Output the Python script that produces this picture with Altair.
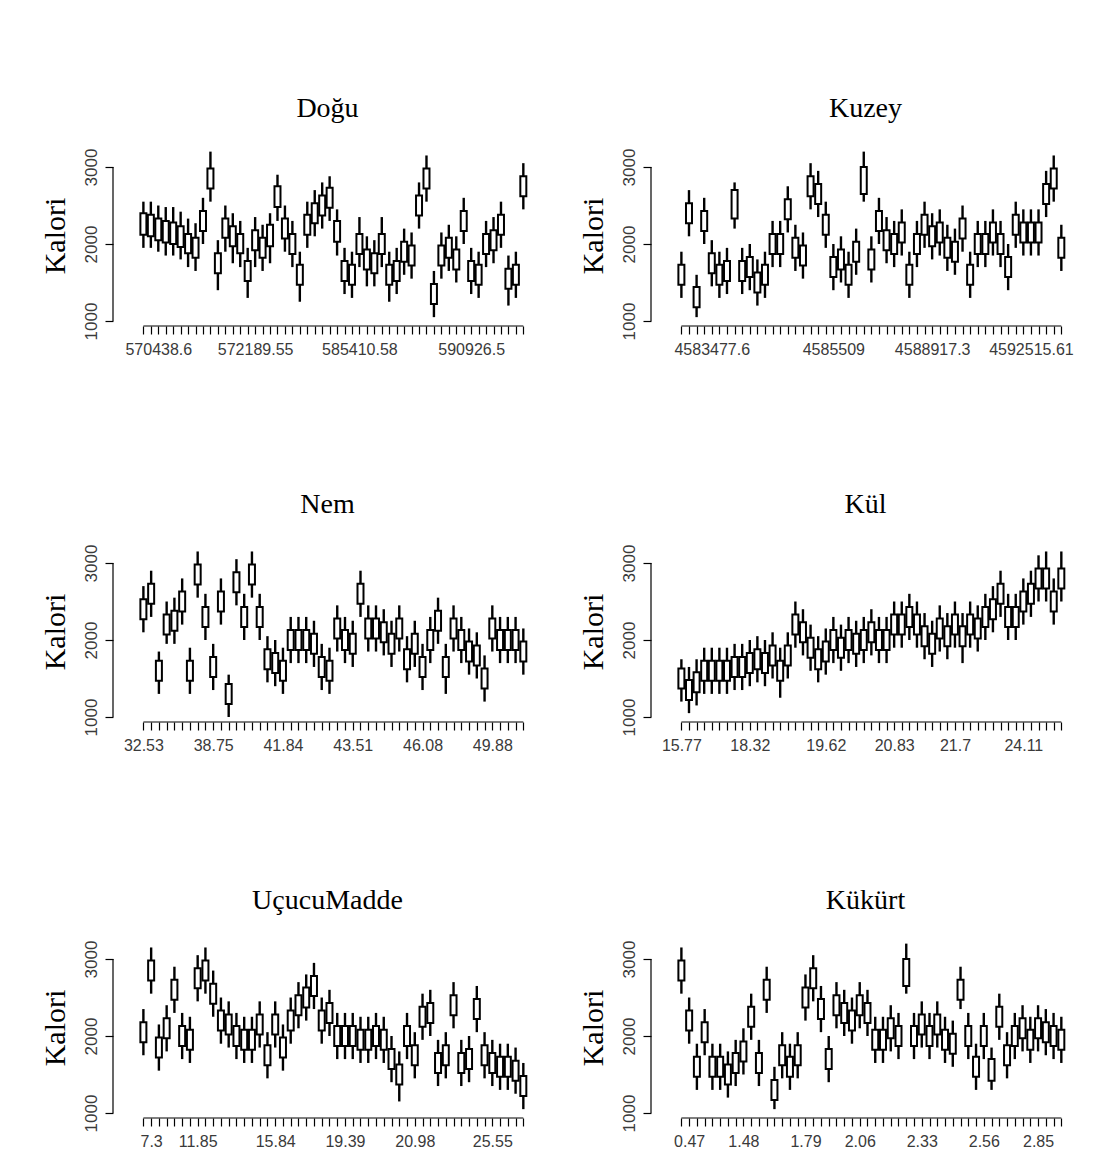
import altair as alt
import pandas as pd

# ---------------- data: (whisker low, box low, box high, whisker high) per group ----------------
dogu = [(1950,2120,2400,2550),(1950,2100,2380,2550),(1900,2050,2330,2500),(1850,2020,2300,2480),
        (1850,2000,2280,2480),(1800,1960,2230,2420),(1700,1880,2130,2330),(1650,1820,2080,2270),
        (2000,2170,2430,2600),(2550,2720,2980,3200),(1400,1620,1880,2050),(1900,2080,2330,2500),
        (1750,1970,2230,2400),(1700,1880,2130,2300),(1300,1520,1780,1950),(1700,1920,2180,2350),
        (1650,1820,2080,2250),(1750,1970,2250,2400),(2300,2480,2750,2900),(1900,2070,2330,2500),
        (1700,1870,2130,2300),(1250,1470,1730,1900),(1950,2120,2380,2550),(2100,2270,2530,2700),
        (2200,2370,2630,2800),(2300,2470,2730,2880),(1850,2030,2300,2450),(1350,1520,1780,1950),
        (1300,1470,1730,1900),(1700,1870,2130,2350),(1450,1670,1930,2100),(1450,1620,1880,2050),
        (1700,1870,2130,2350),(1250,1470,1730,1900),(1350,1520,1780,1950),(1600,1770,2030,2200),
        (1550,1720,1980,2150),(2200,2370,2630,2800),(2550,2720,2980,3150),(1050,1220,1480,1650),
        (1550,1720,1980,2150),(1650,1820,2080,2250),(1500,1670,1930,2100),(2000,2170,2430,2600),
        (1350,1520,1780,1950),(1300,1470,1730,1900),(1700,1870,2130,2300),(1750,1920,2180,2350),
        (1950,2120,2380,2550),(1200,1420,1680,1850),(1300,1470,1730,1900),(2450,2620,2880,3050)]

kuzey = [(1300,1470,1730,1900),(2100,2270,2530,2700),(1050,1180,1440,1600),(2000,2170,2430,2600),
         (1450,1620,1880,2050),(1300,1470,1730,1900),(1350,1520,1780,1950),(2200,2330,2700,2800),
         (1350,1520,1780,1950),(1400,1570,1830,2000),(1200,1370,1630,1800),(1300,1470,1730,1900),
         (1700,1870,2130,2300),(1700,1870,2130,2300),(2150,2320,2580,2750),(1650,1820,2080,2250),
         (1550,1720,1980,2150),(2450,2620,2880,3050),(2350,2520,2780,2950),(1950,2120,2380,2550),
         (1400,1570,1830,2000),(1500,1670,1930,2100),(1300,1470,1730,1900),(1600,1770,2030,2200),
         (2550,2650,3000,3200),(1500,1670,1930,2100),(2000,2170,2430,2600),(1750,1920,2180,2350),
         (1700,1870,2130,2300),(1850,2020,2280,2450),(1300,1470,1730,1900),(1700,1870,2130,2300),
         (1950,2120,2380,2550),(1800,1970,2230,2400),(1850,2020,2280,2450),(1650,1820,2080,2250),
         (1600,1770,2030,2200),(1900,2070,2330,2500),(1300,1470,1730,1900),(1700,1870,2130,2300),
         (1700,1870,2130,2300),(1850,2020,2280,2450),(1700,1870,2130,2300),(1400,1570,1830,2000),
         (1950,2120,2380,2550),(1850,2020,2280,2450),(1850,2020,2280,2450),(1850,2020,2280,2450),
         (2350,2520,2780,2950),(2550,2720,2980,3150),(1650,1820,2080,2250)]

nem = [(2100,2270,2530,2700),(2300,2470,2730,2900),(1300,1470,1730,1850),(1950,2070,2330,2500),
       (1950,2120,2380,2550),(2200,2370,2630,2800),(1300,1470,1730,1900),(2550,2720,2980,3150),
       (2000,2170,2430,2600),(1350,1520,1780,1950),(2200,2370,2630,2800),(1000,1170,1430,1550),
       (2450,2620,2880,3050),(2000,2170,2430,2600),(2550,2720,2980,3150),(2000,2170,2430,2600),
       (1450,1620,1880,2050),(1400,1570,1830,2000),(1300,1470,1730,1900),(1700,1870,2130,2300),
       (1700,1870,2130,2300),(1700,1870,2130,2300),(1650,1820,2080,2250),(1350,1520,1780,1950),
       (1300,1470,1730,1900),(1850,2020,2280,2450),(1700,1870,2130,2300),(1650,1820,2080,2250),
       (2300,2470,2730,2900),(1850,2020,2280,2450),(1850,2020,2280,2450),(1800,1970,2230,2400),
       (1650,1820,2080,2250),(1850,2020,2280,2450),(1450,1620,1880,2050),(1650,1820,2080,2250),
       (1350,1520,1780,1950),(1700,1870,2130,2300),(1950,2120,2380,2550),(1300,1520,1780,1950),
       (1850,2020,2280,2450),(1700,1870,2130,2300),(1550,1720,1980,2150),(1500,1670,1930,2100),
       (1200,1370,1630,1800),(1850,2020,2280,2450),(1700,1870,2130,2300),(1700,1870,2130,2300),
       (1700,1870,2130,2300),(1550,1720,1980,2150)]

kul = [(1200,1370,1630,1750),(1050,1220,1480,1650),(1150,1320,1580,1750),(1300,1470,1730,1900),
       (1300,1470,1730,1900),(1300,1470,1730,1900),(1300,1470,1730,1900),(1350,1520,1780,1950),
       (1350,1520,1780,1950),(1400,1570,1830,2000),(1450,1620,1880,2050),(1400,1570,1830,2000),
       (1500,1670,1930,2100),(1250,1470,1730,1900),(1500,1670,1930,2100),(1900,2070,2330,2500),
       (1800,1970,2230,2400),(1600,1770,2030,2200),(1450,1620,1880,2050),(1550,1720,1980,2150),
       (1700,1870,2130,2300),(1600,1770,2030,2200),(1700,1870,2130,2300),(1650,1820,2080,2250),
       (1700,1870,2130,2300),(1800,1970,2230,2400),(1700,1870,2130,2300),(1700,1870,2130,2300),
       (1900,2070,2330,2500),(1900,2070,2330,2500),(2000,2170,2430,2600),(1900,2070,2330,2500),
       (1750,1920,2180,2350),(1650,1820,2080,2250),(1850,2020,2280,2450),(1750,1920,2180,2350),
       (1900,2070,2330,2500),(1700,1920,2180,2350),(1900,2070,2330,2500),(1850,2020,2280,2450),
       (2000,2170,2430,2600),(2100,2270,2530,2700),(2300,2470,2730,2900),(2000,2170,2430,2600),
       (2000,2170,2430,2600),(2200,2370,2630,2800),(2300,2470,2730,2900),(2500,2670,2930,3100),
       (2500,2670,2930,3150),(2200,2370,2630,2800),(2500,2670,2930,3150)]

ucucu = [(1750,1920,2180,2350),(2550,2720,2980,3150),(1550,1720,1980,2150),(1800,1970,2230,2400),
         (2300,2470,2730,2900),(1700,1870,2130,2300),(1650,1820,2080,2250),(2450,2620,2880,3050),
         (2550,2720,2980,3150),(2250,2420,2680,2850),(1900,2070,2330,2500),(1850,2020,2280,2450),
         (1700,1870,2130,2300),(1650,1820,2080,2250),(1650,1820,2080,2250),(1850,2020,2280,2450),
         (1450,1620,1880,2050),(1850,2020,2280,2450),(1550,1720,1980,2150),(1900,2070,2330,2500),
         (2100,2270,2530,2700),(2200,2370,2630,2800),(2350,2520,2780,2950),(1900,2070,2330,2500),
         (2000,2170,2430,2600),(1700,1870,2130,2300),(1700,1870,2130,2300),(1700,1870,2130,2300),
         (1650,1820,2080,2250),(1650,1820,2080,2250),(1700,1870,2130,2300),(1650,1820,2080,2250),
         (1400,1570,1830,2000),(1150,1370,1630,1800),(1700,1870,2130,2300),(1450,1620,1880,2050),
         (1950,2120,2380,2550),(2000,2170,2430,2600),(1350,1520,1780,1950),(1450,1620,1880,2050),
         (2100,2270,2530,2700),(1350,1520,1780,1950),(1400,1570,1830,2000),(2050,2220,2480,2650),
         (1450,1620,1880,2050),(1350,1520,1780,1950),(1300,1470,1730,1900),(1300,1470,1730,1900),
         (1250,1420,1680,1850),(1050,1220,1480,1650)]

kukurt = [(2550,2720,2980,3150),(1900,2070,2330,2500),(1300,1470,1730,1900),(1750,1920,2180,2350),
          (1300,1470,1730,1900),(1300,1470,1730,1900),(1200,1370,1630,1800),(1350,1520,1780,1950),
          (1500,1670,1930,2100),(1950,2120,2380,2550),(1350,1520,1780,1950),(2300,2470,2730,2900),
          (1050,1170,1430,1600),(1450,1620,1880,2050),(1300,1470,1730,1900),(1450,1620,1880,2050),
          (2200,2370,2630,2800),(2450,2620,2880,3050),(2050,2220,2480,2650),(1400,1570,1830,2000),
          (2100,2270,2530,2700),(2000,2170,2430,2600),(1900,2070,2330,2500),(2100,2270,2530,2700),
          (2000,2170,2430,2600),(1650,1820,2080,2250),(1650,1820,2080,2250),(1800,1970,2230,2400),
          (1700,1870,2130,2300),(2550,2650,3000,3200),(1700,1870,2130,2300),(1850,2020,2280,2450),
          (1700,1870,2130,2300),(1850,2020,2280,2450),(1650,1820,2080,2250),(1600,1770,2030,2200),
          (2350,2470,2730,2900),(1700,1870,2130,2300),(1300,1470,1730,1900),(1700,1870,2130,2300),
          (1300,1420,1700,1850),(1950,2120,2380,2550),(1450,1620,1880,2050),(1700,1870,2130,2300),
          (1800,1970,2230,2400),(1650,1820,2080,2250),(1800,1970,2230,2400),(1750,1920,2180,2350),
          (1700,1870,2130,2300),(1650,1820,2080,2250)]

# tick labels shown (group index -> text)
dogu_labels = {3: "570438.6", 16: "572189.55", 30: "585410.58", 45: "590926.5"}
kuzey_labels = {5: "4583477.6", 21: "4585509", 34: "4588917.3", 47: "4592515.61"}
nem_labels = {1: "32.53", 10: "38.75", 19: "41.84", 28: "43.51", 37: "46.08", 46: "49.88"}
kul_labels = {1: "15.77", 10: "18.32", 20: "19.62", 29: "20.83", 37: "21.7", 46: "24.11"}
ucucu_labels = {2: "7.3", 8: "11.85", 18: "15.84", 27: "19.39", 36: "20.98", 46: "25.55"}
kukurt_labels = {2: "0.47", 9: "1.48", 17: "1.79", 24: "2.06", 32: "2.33", 40: "2.56", 47: "2.85"}

y_ticks = [1000, 2000, 3000]
y_title = "Kalori"

W, H = 429, 181
EDGE_L, EDGE_R = 26, 14  # px between plot edge and first/last group
SERIF = "Liberation Serif"
SANS = "Liberation Sans"


def panel(title, stats, labels):
    n = len(stats)
    df = pd.DataFrame({
        "i": list(range(1, n + 1)),
        "lo": [s[0] for s in stats],
        "q1": [s[1] for s in stats],
        "q3": [s[2] for s in stats],
        "hi": [s[3] for s in stats],
    })
    unit = (W - EDGE_L - EDGE_R) / (n - 1)
    xs = alt.Scale(domain=[1 - EDGE_L / unit, n + EDGE_R / unit], nice=False, zero=False)
    ys = alt.Scale(domain=[935, 3286], nice=False, zero=False)
    expr = "".join(f"datum.value == {k} ? '{v}' : " for k, v in labels.items()) + "''"
    xaxis = alt.Axis(values=list(range(1, n + 1)), labelExpr=expr, tickSize=8, tickColor="black",
                     tickWidth=1.2, domain=False, grid=False, labelOverlap=False, labelFlush=False,
                     labelBound=False, labelFont=SANS, labelFontSize=16, labelColor="#3a3a3a",
                     labelPadding=7, title=None)
    yaxis = alt.Axis(values=y_ticks, format="d", labelAngle=270, labelAlign="center",
                     labelBaseline="bottom", tickSize=8, tickColor="black", tickWidth=1.2,
                     domain=False, grid=False, labelFont=SANS, labelFontSize=17,
                     labelColor="#3a3a3a", labelPadding=5, title=y_title, titleFont=SERIF,
                     titleFontSize=30, titleFontWeight="normal", titleColor="black",
                     titlePadding=12)
    base = alt.Chart(df)
    whisk = base.mark_rule(color="black", strokeWidth=2.4).encode(
        x=alt.X("i:Q", scale=xs, axis=xaxis),
        y=alt.Y("lo:Q", scale=ys, axis=yaxis),
        y2="hi:Q",
    )
    box = base.mark_bar(width=6, fill="white", stroke="black", strokeWidth=2).encode(
        x=alt.X("i:Q", scale=xs, axis=xaxis),
        y=alt.Y("q1:Q", scale=ys, axis=yaxis),
        y2="q3:Q",
    )
    yline = alt.Chart(pd.DataFrame({"a": [y_ticks[0]], "b": [y_ticks[-1]]})).mark_rule(
        color="black", strokeWidth=1.2).encode(
        x=alt.value(0),
        y=alt.Y("a:Q", scale=ys, axis=yaxis),
        y2="b:Q",
    )
    xline = alt.Chart(pd.DataFrame({"a": [1], "b": [n]})).mark_rule(
        color="black", strokeWidth=1.2).encode(
        x=alt.X("a:Q", scale=xs, axis=xaxis),
        x2="b:Q",
        y=alt.value(H),
    )
    return alt.layer(whisk, box, yline, xline).properties(
        width=W, height=H,
        title=alt.TitleParams(title, font=SERIF, fontSize=28, fontWeight="normal",
                              anchor="middle", offset=22, color="black"),
    )


HS = 36
row1 = alt.hconcat(panel("Doğu", dogu, dogu_labels), panel("Kuzey", kuzey, kuzey_labels), spacing=HS)
row2 = alt.hconcat(panel("Nem", nem, nem_labels), panel("Kül", kul, kul_labels), spacing=HS)
row3 = alt.hconcat(panel("UçucuMadde", ucucu, ucucu_labels), panel("Kükürt", kukurt, kukurt_labels), spacing=HS)

chart = alt.vconcat(row1, row2, row3, spacing=134).properties(
    padding={"left": 40, "top": 95, "right": 0, "bottom": 0},
    background="white",
).configure_view(stroke=None)

chart.save("out.html", embed_options={"renderer": "svg", "actions": False})
